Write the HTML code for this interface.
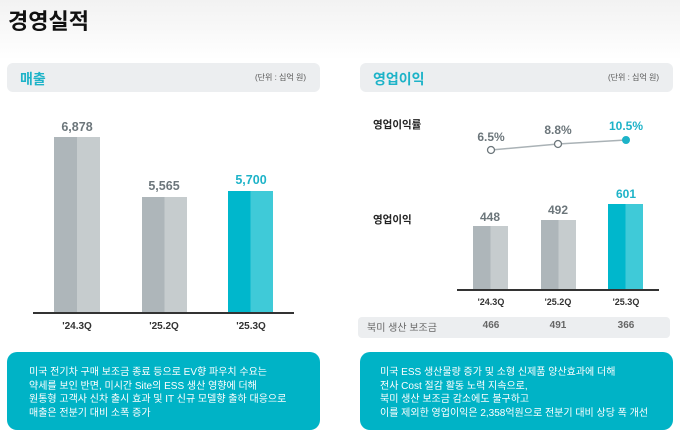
<!DOCTYPE html>
<html><head><meta charset="utf-8"><style>
*{margin:0;padding:0;box-sizing:border-box}
body{width:680px;height:439px;overflow:hidden;background:linear-gradient(#f2f2f2 0,#fff 60px);font-family:"Liberation Sans","Noto Sans CJK KR",sans-serif;position:relative}
.a{position:absolute;white-space:nowrap}
.hdr{position:absolute;top:63px;height:29px;background:#eceef0;border-radius:6px}
.hdr b{position:absolute;left:13px;top:6px;font-size:14px;color:#1db3c8}
.hdr span{position:absolute;right:14px;top:9px;font-size:8px;color:#555}
.bar{position:absolute;background:linear-gradient(90deg,#aeb6ba 0 50%,#c6ccce 50%)}
.bar.t{background:linear-gradient(90deg,#00b7cc 0 50%,#3fcad8 50%)}
.v{position:absolute;font-size:12.5px;font-weight:bold;color:#6c767b;text-align:center;width:60px}
.x{position:absolute;font-size:10px;font-weight:bold;color:#333;text-align:center;width:60px}
.box{position:absolute;top:352px;height:78px;background:#00b3c6;border-radius:10px;color:#fff;font-size:10px;line-height:13.5px;padding-top:13px}
</style></head><body>
<div class="a" style="left:8px;top:4px;font-size:22px;font-weight:bold;color:#111">경영실적</div>

<div class="hdr" style="left:7px;width:313px"><b>매출</b><span>(단위 : 십억 원)</span></div>
<div class="v" style="left:47px;top:120px">6,878</div>
<div class="v" style="left:134px;top:179px">5,565</div>
<div class="v" style="left:221px;top:173px;color:#1db3c8">5,700</div>
<div class="bar" style="left:54px;top:137px;width:46px;height:176px"></div>
<div class="bar" style="left:142px;top:197px;width:45px;height:116px"></div>
<div class="bar t" style="left:228px;top:191px;width:45px;height:122px"></div>
<div class="a" style="left:33px;top:312px;width:261px;height:2px;background:#333"></div>
<div class="x" style="left:47px;top:321px">'24.3Q</div>
<div class="x" style="left:134px;top:321px">'25.2Q</div>
<div class="x" style="left:221px;top:321px">'25.3Q</div>
<div class="box" style="left:7px;width:313px;padding-left:22px;padding-top:14px">미국 전기차 구매 보조금 종료 등으로 EV향 파우치 수요는<br>약세를 보인 반면, 미시간 Site의 ESS 생산 영향에 더해<br>원통형 고객사 신차 출시 효과 및 IT 신규 모델향 출하 대응으로<br>매출은 전분기 대비 소폭 증가</div>

<div class="hdr" style="left:360px;width:313px"><b>영업이익</b><span>(단위 : 십억 원)</span></div>
<div class="a" style="left:373px;top:117px;font-size:10.5px;font-weight:bold;color:#222">영업이익률</div>
<div class="a" style="left:373px;top:212px;font-size:10.5px;font-weight:bold;color:#222">영업이익</div>
<svg class="a" style="left:0;top:0" width="680" height="439">
<polyline points="491,150 558,144 626,140" fill="none" stroke="#aab2b6" stroke-width="1.5"/>
<circle cx="491" cy="150" r="3.5" fill="#fff" stroke="#6c767b" stroke-width="1.3"/>
<circle cx="558" cy="144" r="3.5" fill="#fff" stroke="#6c767b" stroke-width="1.3"/>
<circle cx="626" cy="140" r="3.5" fill="#1db3c8" stroke="#1db3c8"/>
</svg>
<div class="v" style="left:461px;top:130px;font-size:12px">6.5%</div>
<div class="v" style="left:528px;top:123px;font-size:12px">8.8%</div>
<div class="v" style="left:596px;top:119px;font-size:12px;color:#1db3c8">10.5%</div>
<div class="v" style="left:460px;top:210px;font-size:12px">448</div>
<div class="v" style="left:528px;top:203px;font-size:12px">492</div>
<div class="v" style="left:596px;top:187px;font-size:12px;color:#1db3c8">601</div>
<div class="bar" style="left:473px;top:226px;width:35px;height:64px"></div>
<div class="bar" style="left:541px;top:220px;width:35px;height:70px"></div>
<div class="bar t" style="left:608px;top:204px;width:35px;height:86px"></div>
<div class="a" style="left:457px;top:289px;width:202px;height:1.5px;background:#333"></div>
<div class="x" style="left:461px;top:297px;font-size:9px">'24.3Q</div>
<div class="x" style="left:528px;top:297px;font-size:9px">'25.2Q</div>
<div class="x" style="left:596px;top:297px;font-size:9px">'25.3Q</div>
<div class="a" style="left:358px;top:317px;width:312px;height:21px;background:#eceef0;border-radius:4px"></div>
<div class="a" style="left:367px;top:319px;font-size:10px;color:#666">북미 생산 보조금</div>
<div class="x" style="left:461px;top:320px;color:#666">466</div>
<div class="x" style="left:528px;top:320px;color:#666">491</div>
<div class="x" style="left:596px;top:320px;color:#666">366</div>
<div class="box" style="left:360px;width:313px;padding-left:20px;padding-top:14px">미국 ESS 생산물량 증가 및 소형 신제품 양산효과에 더해<br>전사 Cost 절감 활동 노력 지속으로,<br>북미 생산 보조금 감소에도 불구하고<br>이를 제외한 영업이익은 2,358억원으로 전분기 대비 상당 폭 개선</div>
</body></html>
